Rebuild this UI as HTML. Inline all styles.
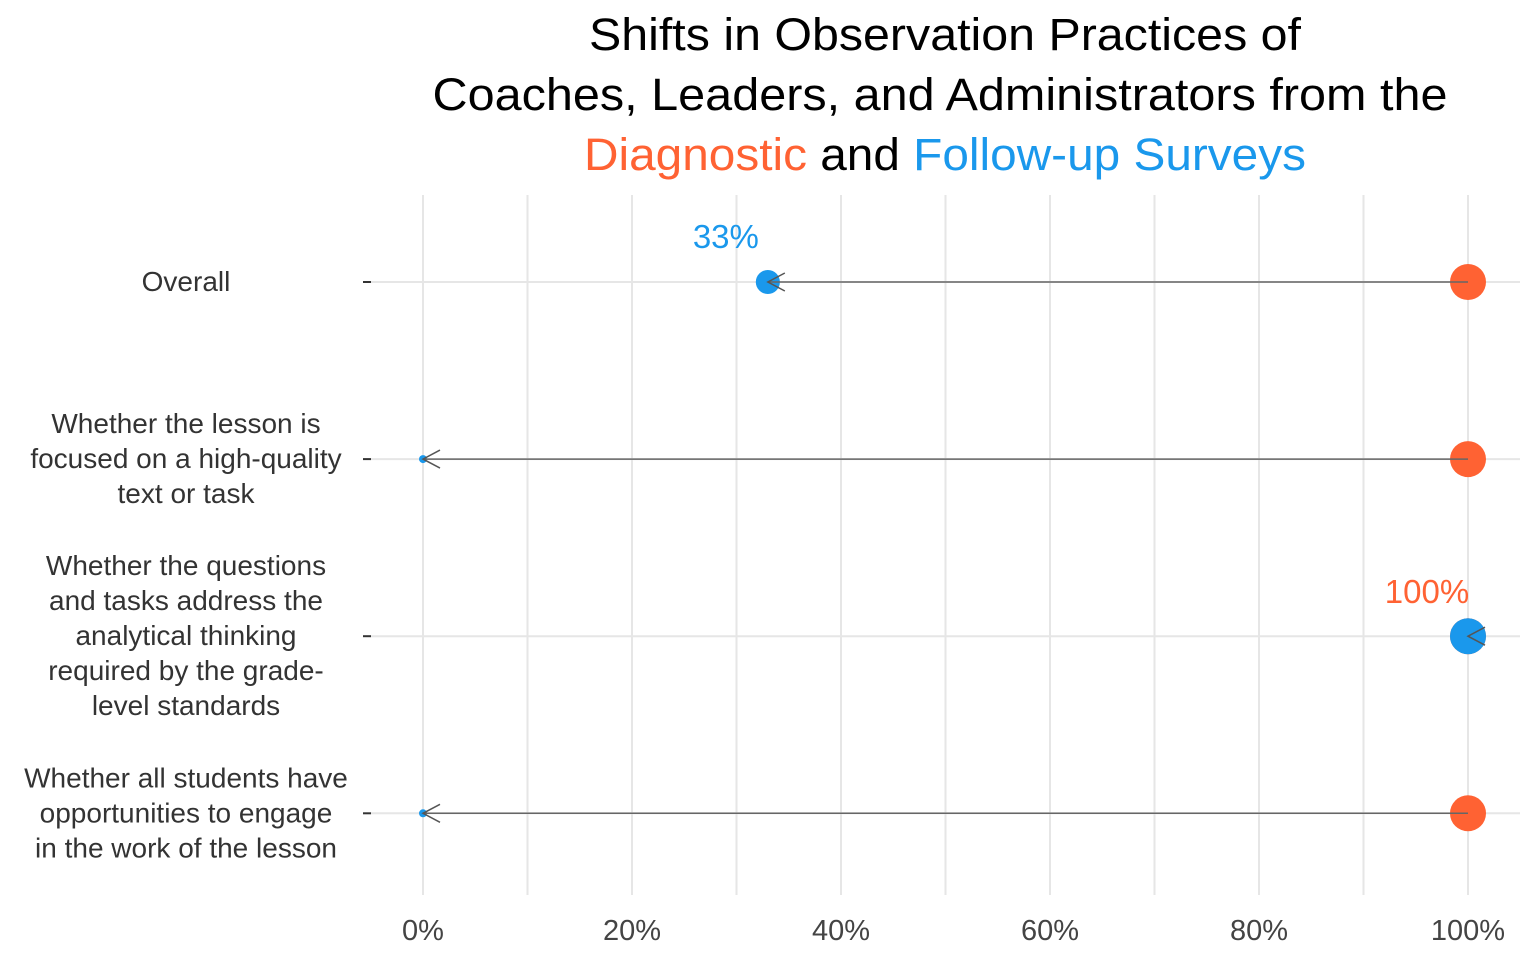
<!DOCTYPE html>
<html><head><meta charset="utf-8"><style>
body{margin:0;background:#fff;}
svg{display:block;font-family:"Liberation Sans",sans-serif;}
</style></head><body>
<svg id="chart" width="1536" height="960">
<g>
<text x="945" y="50" text-anchor="middle" font-size="45" fill="#000" textLength="712" lengthAdjust="spacingAndGlyphs">Shifts in Observation Practices of</text>
<text x="940" y="110" text-anchor="middle" font-size="45" fill="#000" textLength="1015" lengthAdjust="spacingAndGlyphs">Coaches, Leaders, and Administrators from the</text>
<text x="945" y="170" text-anchor="middle" font-size="45" textLength="722" lengthAdjust="spacingAndGlyphs"><tspan fill="#FF6233">Diagnostic</tspan><tspan fill="#000"> and </tspan><tspan fill="#1A98EC">Follow-up Surveys</tspan></text>
</g>
<g id="grid"></g><g id="marks"></g><g id="labels"></g>
</svg>
<script>
const categories=[["Overall"],["Whether the lesson is","focused on a high-quality","text or task"],["Whether the questions","and tasks address the","analytical thinking","required by the grade-","level standards"],["Whether all students have","opportunities to engage","in the work of the lesson"]];
const diagnostic=[100,100,100,100];
const followup=[33,0,100,0];
const xTicks=[0,20,40,60,80,100];
const ns="http://www.w3.org/2000/svg";
const X=v=>423+v*10.45;
const Y=i=>282+i*177.1;
function mk(tag,attrs,parent){const e=document.createElementNS(ns,tag);for(const k in attrs)e.setAttribute(k,attrs[k]);parent.appendChild(e);return e;}
const grid=document.getElementById('grid'),marks=document.getElementById('marks'),labels=document.getElementById('labels');
for(let v=0;v<=100;v+=10){const l=mk('line',{x1:X(v),x2:X(v),y1:195,y2:895,stroke:'#e6e6e6','stroke-width':2},grid);

}
xTicks.forEach(v=>{const t=mk('text',{x:X(v),y:940,'text-anchor':'middle','font-size':29,fill:'#444'},labels);t.textContent=v+'%';

});
categories.forEach((c,i)=>{
const g=mk('line',{x1:370,x2:1520,y1:Y(i),y2:Y(i),stroke:'#e6e6e6','stroke-width':2},grid);


const tk=mk('line',{x1:363,x2:371,y1:Y(i),y2:Y(i),stroke:'#333','stroke-width':2},grid);


const t=mk('text',{'text-anchor':'middle','font-size':28,fill:'#333'},labels);


const y0=Y(i)-(c.length-1)*35/2+9;
c.forEach((s,j)=>{const ts=mk('tspan',{x:186,y:y0+j*35},t);ts.textContent=s;});
const d=diagnostic[i],f=followup[i];
const od=mk('circle',{cx:X(d),cy:Y(i),r:18,fill:'#FF6233'},marks);


const r=4+14*Math.sqrt(f/100);
const bd=mk('circle',{cx:X(f),cy:Y(i),r:r,fill:'#1A98EC'},marks);


const ln=mk('line',{x1:X(d),x2:X(f),y1:Y(i),y2:Y(i),stroke:'#666','stroke-width':1.5},marks);


const dir=d>=f?1:-1;
const ah=mk('path',{d:`M${X(f)+dir*17},${Y(i)-9} L${X(f)},${Y(i)} L${X(f)+dir*17},${Y(i)+9}`,fill:'none',stroke:'#555','stroke-width':1.5},marks);


});
const l1=mk('text',{x:X(followup[0])-42,y:Y(0)-34,'text-anchor':'middle','font-size':33,fill:'#1A98EC'},labels);
l1.textContent=followup[0]+'%';


const l2=mk('text',{x:X(diagnostic[2])-41,y:Y(2)-33,'text-anchor':'middle','font-size':33,fill:'#FF6233'},labels);
l2.textContent=diagnostic[2]+'%';


</script>
</body></html>
